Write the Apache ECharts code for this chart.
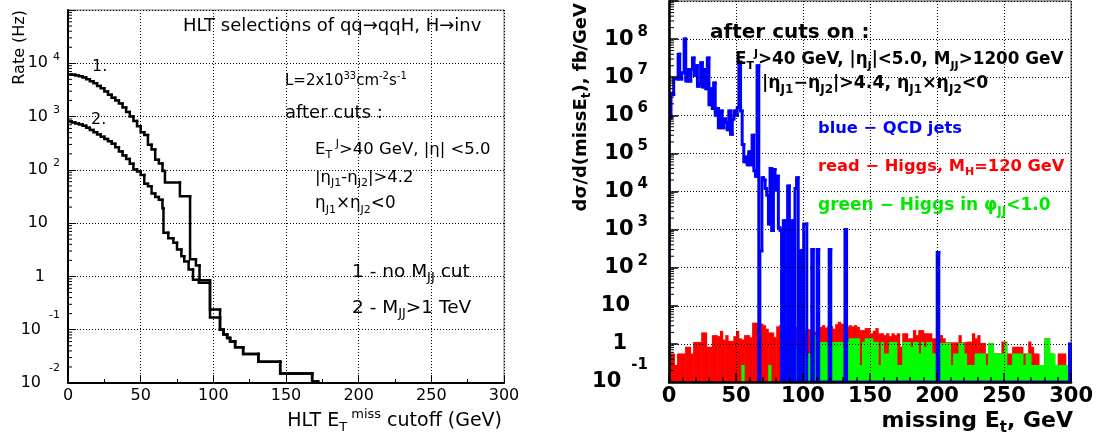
<!DOCTYPE html>
<html><head><meta charset="utf-8">
<script src="https://cdn.jsdelivr.net/npm/echarts@6.0.0/dist/echarts.min.js"></script>
<style>html,body{margin:0;padding:0;background:#fff}#c{width:1096px;height:441px}</style>
</head><body><div id="c"></div>
<script>
// ---------------- data ----------------
const xTickValues = [0, 50, 100, 150, 200, 250, 300];

// Left panel: HLT rate vs missing-ET cutoff (step curves; value holds from x to next x)
const curve1X = [0,2.5,5,7.5,10,12.5,15,17.5,20,22.5,25,27.5,30,32.5,35,37.5,40,42.5,45,47.5,50,52.5,55,57.5,60,62.5,65,66.7,77,84,88,90.5,97.7,104.6,107,109.5,111.5,115,120.5,131,146,168,172];
const curve1Y = [6170,6100,5890,5690,5430,5010,4620,4220,3760,3390,2950,2570,2260,2000,1760,1480,1220,1000,830,660,510,450,295,240,155,132,95,58,32,2.1,1.6,0.85,0.24,0.1,0.081,0.07,0.06,0.047,0.035,0.025,0.015,0.0107,0];
const curve2X = [0,2.5,5,7.5,10,12.5,15,17.5,20,22.5,25,27.5,30,32.5,35,37.5,40,42.5,45,47.5,50,52.5,55,57.5,60,62.5,65,65.7,69,72.5,75,78,80,83,86,90,97.7,104.6,107,109.5,111.5,115,120.5,131,146,168,172];
const curve2Y = [810,775,740,710,670,615,560,510,460,420,380,345,310,265,220,185,160,130,102,93,80,55,49,36,31,27.5,19,6.6,5.2,4.3,3.2,2.4,1.9,1.35,0.87,0.76,0.17,0.1,0.081,0.07,0.06,0.047,0.035,0.025,0.015,0.0107,0];

// Right panel: histograms, 2 GeV bins from 0 to 300 GeV
const binWidthGeV = 2;
const redHiggs = [
0.56,0.56,0.28,0.56,0.56,0.56,0.84,0.84,0.56,1.12,
1.12,1.12,2.0,2.0,0.84,0.84,1.7,1.7,1.6,2.2,
1.3,1.7,1.2,1.2,1.6,2.2,1.4,1.3,1.7,1.7,
1.5,3.6,3.6,2.9,3.4,3.1,2.5,2.0,2.0,1.5,
2.9,3.1,2.6,2.2,2.5,2.5,2.8,2.8,3.1,2.5,
2.2,2.5,2.4,2.2,2.1,2.3,2.8,3.1,2.7,2.9,
2.9,2.5,3.3,3.8,3.4,2.8,2.8,3.1,2.9,3.1,
2.8,2.3,2.3,2.6,2.6,1.9,2.2,2.6,1.9,1.9,
1.7,1.9,1.6,1.9,1.7,1.9,0.85,1.9,1.9,1.4,
1.4,2.3,1.7,2.3,2.3,1.9,1.9,1.9,1.4,1.4,
1.7,1.7,1.4,1.1,1.1,1.1,1.1,1.1,1.7,1.1,
1.1,1.15,1.15,1.9,1.4,1.7,1.06,1.06,0.56,1.06,
1.06,0.56,0.56,0.56,1.15,1.15,0.56,0.56,0.84,0.84,
0.84,0.84,0.56,0.56,1.15,0.84,0.56,0.56,0.28,0.28,
1.4,1.4,0.56,0.28,0.28,0.56,0.56,0.56,0.28,0.28];
const greenHiggs = [
0,0,0,0,0,0,0,0,0,0,
0,0,0,0,0,0,0,0,0,0,
0,0,0,0,0,0,0,0.28,0,0,
0,0,0,0,0,0,0,0.28,0,0,
0,0,0.56,0,0.28,0.56,0.56,0.84,0.56,0.56,
0.56,0.56,0.56,0.56,1.7,0.56,1.12,1.12,1.12,0.84,
1.12,1.12,1.12,1.12,1.12,1.12,1.12,1.4,1.4,1.4,
1.4,0.28,1.12,1.4,1.4,1.4,1.12,1.12,0.28,1.12,
0.56,0.56,1.12,1.12,1.12,0.28,0.28,1.12,1.12,1.12,
0.84,1.12,1.12,0.56,1.12,0.84,1.12,1.12,0.56,0.56,
0.56,1.06,1.06,1.06,1.06,0.28,0.56,0.56,1.06,1.06,
0.56,0.28,0.28,0.28,0.56,0.56,0.56,0.56,0.28,1.06,
1.06,0.56,0.56,0.56,0.56,1.06,0.28,0.28,0.56,0.56,
0.56,0.56,0.28,0.56,0.56,0.28,0.28,0.28,0.28,0.28,
1.4,1.4,0.56,0.56,0.28,0.28,0.28,0.28,0.28,0.28];
// QCD jets: variable-width steps (left edge in GeV, value)
const blueEdges = [0,1.5,3.5,6.8,8.0,9.5,11.3,12.5,13.8,15.0,16.2,17.5,18.7,19.9,21.2,22.4,23.6,24.9,26.1,27.4,28.6,29.8,31.1,32.3,33.3,34.5,35.5,36.8,38.0,39.7,41.0,42.2,43.4,44.6,45.9,47.2,48.4,49.6,50.9,52.1,53.4,54.6,55.8,57.0,58.3,59.5,60.8,62.0,63.3,64.5,65.7,67.0,67.8,69.3,70.5,71.7,72.9,74.2,75.4,76.6,77.9,79.1,80.3,81.6,82.8,84.0,85.3,86.5,88.5,89.8,91.5,92.7,94.0,95.2,96.4,98.0,99.2,100.5,102.8,106.5,107.7,110.5,111.7,119.5,120.7,131.3,132.5,200.1,201.3,298.8];
const blueVals = [8.5e5,3.5e6,9e6,4e7,9e6,1.3e7,1e8,8e6,1.6e7,8e6,1.6e7,3.2e7,1.1e7,2e7,5.8e6,6.5e6,2.4e7,5.5e6,1.6e7,5e6,3.2e7,1.9e6,5e6,1.5e6,7e6,1e6,1.5e6,4.7e5,1.3e6,4.7e5,8e5,6.5e5,4.2e5,1.3e6,3.2e5,8e5,1.3e6,1e6,1.6e6,2.5e7,1.3e6,1.7e5,6e4,8e4,5e4,1.1e5,5e4,3e5,3.5e4,2.5e4,2e7,0,280,2.3e4,2e4,1.2e4,8e3,1.4e3,4e4,950,3.8e4,1.1e4,2.5e4,1.1e3,950,0,1.7e3,0,1.4e4,0,1.7e3,0,1.2e4,2.3e4,0,280,0,1.4e3,0,300,0,300,0,300,0,1e3,0,250,0,1.0];
const blueEnd = 300;

// ---------------- rendering ----------------
const LF = 'DejaVu Sans';
const RF = 'DejaVu Sans';
const L_YMIN = 0.01, L_YMAX = 1e5;
const R_YMIN = 0.1, R_YMAX = 1e9;

function stepSeries(xs, ys, xEnd, yMin, color, width, xi, closeEnd, firstFromBottom) {
  return {
    type: 'custom', xAxisIndex: xi, yAxisIndex: xi, clip: true, z: 4,
    data: xs.map((x, i) => [x, ys[i]]),
    renderItem: function (params, api) {
      const i = params.dataIndex;
      const c = v => Math.max(v, yMin);
      const x0 = xs[i];
      const x1 = i < xs.length - 1 ? xs[i + 1] : xEnd;
      const prev = i > 0 ? ys[i - 1] : (firstFromBottom ? yMin : ys[0]);
      const pts = [api.coord([x0, c(prev)]), api.coord([x0, c(ys[i])]), api.coord([x1, c(ys[i])])];
      if (closeEnd && i === xs.length - 1) pts.push(api.coord([x1, yMin]));
      return { type: 'polyline', shape: { points: pts },
        style: { stroke: color, lineWidth: width, fill: 'none', lineCap: 'square', lineJoin: 'miter' } };
    }
  };
}
function histSeries(vals, color, xi, yMin) {
  return {
    type: 'custom', xAxisIndex: xi, yAxisIndex: xi, clip: true, z: 2,
    data: vals.map((v, i) => [i * binWidthGeV + binWidthGeV / 2, v]),
    renderItem: function (params, api) {
      const i = params.dataIndex;
      const v = vals[i];
      if (!(v > yMin)) return { type: 'group', children: [] };
      const x0 = i * binWidthGeV, x1 = x0 + binWidthGeV;
      const p0 = api.coord([x0, v]);
      const p1 = api.coord([x1, yMin]);
      return { type: 'rect', shape: { x: p0[0], y: p0[1], width: p1[0] - p0[0] + 0.6, height: p1[1] - p0[1] },
        style: { fill: color } };
    }
  };
}
function logMinorTicks(lo, hi, xi, len) {
  const vals = [];
  for (let e = lo; e < hi; e++) for (let k = 2; k <= 9; k++) vals.push([0, k * Math.pow(10, e)]);
  return {
    type: 'custom', xAxisIndex: xi, yAxisIndex: xi, z: 6, silent: true,
    data: vals,
    renderItem: function (params, api) {
      const p = api.coord([0, api.value(1)]);
      return { type: 'line', shape: { x1: p[0], y1: p[1], x2: p[0] + len, y2: p[1] },
        style: { stroke: '#000', lineWidth: 1 } };
    }
  };
}

function leftYLabel(v) {
  const n = Math.round(Math.log10(v));
  if (n >= 5) return '';
  if (n === 0) return '{m|1}{g15| }';
  if (n === 1) return '{m|10}{g12| }';
  if (n > 0) return '{m|10}{e|' + n + '}';
  return '{mn|10}{en|' + n + '}';
}
function rightYLabel(v) {
  const n = Math.round(Math.log10(v));
  if (n >= 9) return '';
  if (n === 0) return '{m|1}{g21| }';
  if (n === 1) return '{m|10}{g18| }';
  if (n > 0) return '{m|10}{e|' + n + '}';
  return '{mn|10}{en|' + n + '}';
}

const dotted = { color: '#000', type: [1, 2], width: 1 };

function lt(x, y, text, size, extra, align) {
  const ss = Math.round(size * 0.68);
  return Object.assign({
    type: 'text', x: x, y: y, z: 100,
    style: {
      text: text, fill: '#000', fontFamily: LF, fontSize: size, lineHeight: Math.round(size * 1.35),
      align: align || 'left', verticalAlign: 'middle',
      rich: {
        sup: { fontFamily: LF, fontSize: ss, lineHeight: ss, verticalAlign: 'top', fill: '#000' },
        sub: { fontFamily: LF, fontSize: ss, lineHeight: ss, verticalAlign: 'bottom', fill: '#000' }
      }
    }
  }, extra || {});
}
function rt(x, y, text, size, color, extra, align) {
  const ss = Math.round(size * 0.68);
  return Object.assign({
    type: 'text', x: x, y: y, z: 100,
    style: {
      text: text, fill: color, fontFamily: RF, fontWeight: 'bold', fontSize: size, lineHeight: Math.round(size * 1.35),
      align: align || 'left', verticalAlign: 'middle',
      rich: {
        sup: { fontFamily: RF, fontWeight: 'bold', fontSize: ss, lineHeight: ss, verticalAlign: 'top', fill: color },
        sub: { fontFamily: RF, fontWeight: 'bold', fontSize: ss, lineHeight: ss, verticalAlign: 'bottom', fill: color }
      }
    }
  }, extra || {});
}

const option = {
  animation: false,
  backgroundColor: '#fff',
  grid: [
    { left: 68, top: 10, width: 436, height: 373, show: true, borderColor: '#777', borderWidth: 1 },
    { left: 669, top: 1, width: 404, height: 381, show: true, borderColor: '#333', borderWidth: 1 }
  ],
  xAxis: [
    { gridIndex: 0, type: 'value', min: 0, max: 300, interval: 50, z: 5,
      axisLine: { lineStyle: { color: '#000', width: 2 } },
      axisTick: { inside: true, length: 8, lineStyle: { color: '#000' } },
      minorTick: { show: true, splitNumber: 2, length: 4, lineStyle: { color: '#000' } },
      splitLine: { show: true, lineStyle: dotted },
      axisLabel: { fontFamily: LF, fontSize: 16, color: '#000', margin: 5,
        formatter: v => xTickValues.indexOf(v) >= 0 ? String(v) : '' } },
    { gridIndex: 1, type: 'value', min: 0, max: 300, interval: 50, z: 5,
      axisLine: { lineStyle: { color: '#000', width: 2.5 } },
      axisTick: { inside: true, length: 9, lineStyle: { color: '#000', width: 1.5 } },
      minorTick: { show: true, splitNumber: 5, length: 5, lineStyle: { color: '#000', width: 1.5 } },
      splitLine: { show: true, lineStyle: dotted },
      axisLabel: { fontFamily: RF, fontWeight: 'bold', fontSize: 21, color: '#000', margin: 4,
        formatter: v => xTickValues.indexOf(v) >= 0 ? String(v) : '' } }
  ],
  yAxis: [
    { gridIndex: 0, type: 'log', logBase: 10, min: L_YMIN, max: L_YMAX, splitNumber: 7, z: 5,
      axisLine: { lineStyle: { color: '#000', width: 2 } },
      axisTick: { inside: true, length: 8, lineStyle: { color: '#000' } },
      splitLine: { show: true, lineStyle: dotted },
      axisLabel: { formatter: leftYLabel, margin: 8, color: '#000',
        rich: {
          m: { fontFamily: LF, fontSize: 16, lineHeight: 24, color: '#000' },
          mn: { fontFamily: LF, fontSize: 16, lineHeight: 40, color: '#000' },
          e: { fontFamily: LF, fontSize: 11, lineHeight: 11, verticalAlign: 'top', padding: [0, 0, 0, 5], color: '#000' },
          en: { fontFamily: LF, fontSize: 11, lineHeight: 11, verticalAlign: 'top', padding: [0, 0, 0, 8], color: '#000' },
          g12: { width: 12, fontSize: 10 },
          g15: { width: 15, fontSize: 10 }
        } } },
    { gridIndex: 1, type: 'log', logBase: 10, min: R_YMIN, max: R_YMAX, splitNumber: 10, z: 5,
      axisLine: { lineStyle: { color: '#000', width: 2.5 } },
      axisTick: { inside: true, length: 9, lineStyle: { color: '#000', width: 1.5 } },
      splitLine: { show: true, lineStyle: dotted },
      axisLabel: { formatter: rightYLabel, margin: 21, color: '#000',
        rich: {
          m: { fontFamily: RF, fontWeight: 'bold', fontSize: 21, lineHeight: 29, color: '#000' },
          mn: { fontFamily: RF, fontWeight: 'bold', fontSize: 21, lineHeight: 49, color: '#000' },
          e: { fontFamily: RF, fontWeight: 'bold', fontSize: 15, lineHeight: 15, verticalAlign: 'top', padding: [0, 0, 0, 4], color: '#000' },
          en: { fontFamily: RF, fontWeight: 'bold', fontSize: 15, lineHeight: 15, verticalAlign: 'top', padding: [0, 0, 0, 10], color: '#000' },
          g18: { width: 18, fontSize: 10 },
          g21: { width: 21, fontSize: 10 }
        } } }
  ],
  series: [
    logMinorTicks(-2, 5, 0, 4),
    stepSeries(curve1X, curve1Y, 172, L_YMIN, '#000', 2.5, 0, false, false),
    stepSeries(curve2X, curve2Y, 172, L_YMIN, '#000', 2.5, 0, false, false),
    histSeries(redHiggs, '#ff0000', 1, R_YMIN),
    histSeries(greenHiggs, '#00ff00', 1, R_YMIN),
    stepSeries(blueEdges, blueVals, blueEnd, R_YMIN, '#0000ff', 3, 1, true, true),
    logMinorTicks(-1, 9, 1, 5)
  ],
  graphic: [
    // left panel texts
    lt(183, 26, 'HLT selections of qq\u2192qqH, H\u2192inv', 18),
    lt(285, 81, 'L=2x10{sup|33}cm{sup|-2}s{sup|-1}', 15),
    lt(285, 113, 'after cuts :', 18),
    lt(315, 150, 'E{sub|T}{sup| J}>40 GeV, |\u03b7| <5.0', 16.5),
    lt(315, 178, '|\u03b7{sub|J1}-\u03b7{sub|J2}|>4.2', 16.5),
    lt(315, 204, '\u03b7{sub|J1}\u00d7\u03b7{sub|J2}<0', 16.8),
    lt(352, 272, '1 - no M{sub|JJ} cut', 18.5),
    lt(352, 308, '2 - M{sub|JJ}>1 TeV', 18.5),
    lt(92, 67, '1.', 16),
    lt(91, 120, '2.', 16),
    lt(502, 421, 'HLT E{sub|T}{sup| miss} cutoff (GeV)', 19, {}, 'right'),
    lt(0, 0, 'Rate (Hz)', 16, { x: 20, y: 10, rotation: Math.PI / 2 }, 'right'),
    // right panel texts
    rt(710, 33, 'after cuts on :', 20, '#000'),
    rt(735, 60, 'E{sub|T}{sup|J}>40 GeV, |\u03b7{sub|J}|<5.0, M{sub|JJ}>1200 GeV', 16.8, '#000'),
    rt(762, 84, '|\u03b7{sub|J1}\u2212\u03b7{sub|J2}|>4.4, \u03b7{sub|J1}\u00d7\u03b7{sub|J2}<0', 17.3, '#000'),
    rt(818, 129, 'blue \u2212 QCD jets', 16.3, '#0000ff'),
    rt(818, 167, 'read \u2212 Higgs, M{sub|H}=120 GeV', 16.3, '#ff0000'),
    rt(818, 206, 'green \u2212 Higgs in \u03c6{sub|JJ}<1.0', 17, '#00e800'),
    rt(1073, 421, 'missing E{sub|t}, GeV', 22, '#000', {}, 'right'),
    rt(581, 3, 'd\u03c3/d(missE{sub|t}), fb/GeV', 18, '#000', { rotation: Math.PI / 2 }, 'right')
  ]
};

const chart = echarts.init(document.getElementById('c'), null, { renderer: 'canvas' });
chart.setOption(option);
</script>
</body></html>
